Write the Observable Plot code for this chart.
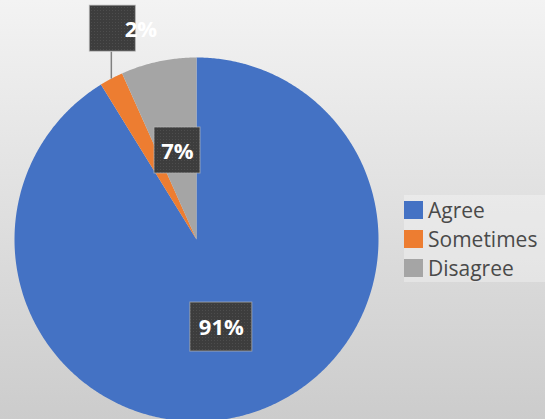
<!DOCTYPE html>
<html>
<head>
<meta charset="utf-8">
<script src="https://cdn.jsdelivr.net/npm/d3@7"></script>
<script src="https://cdn.jsdelivr.net/npm/@observablehq/plot@0.6"></script>
<style>
html, body { margin: 0; padding: 0; overflow: hidden; }
#wrap { position: relative; width: 545px; height: 419px; font-family: "Open Sans", sans-serif; }
#legend { position: absolute; left: 404px; top: 195px; width: 141px; height: 87px; background: rgba(255,255,255,0.3); }
.item { position: absolute; left: 0; height: 20px; display: flex; align-items: center; }
.sw { width: 19px; height: 18px; margin-right: 5px; }
.lab { font-size: 21px; color: #4a4a4a; line-height: 20px; }
</style>
</head>
<body>
<div id="wrap"><div id="legend"></div></div>
<script>
// Data (clockwise from 12 o'clock)
const categories = ["Agree", "Sometimes", "Disagree"];
const values = [91.2, 2.1, 6.7];
const colors = ["#4472C4", "#ED7D31", "#A5A5A5"];

const total = d3.sum(values);
const TAU = 2 * Math.PI;

// Build slice polygons
const slices = [];
const labels = [];
let acc = 0;
values.forEach((v, i) => {
  const a0 = acc / total * TAU;
  acc += v;
  const a1 = acc / total * TAU;
  const pts = [{cat: categories[i], x: 0, y: 0}];
  const n = Math.max(2, Math.ceil((a1 - a0) / (Math.PI / 360)));
  for (let k = 0; k <= n; k++) {
    const a = a0 + (a1 - a0) * k / n;
    pts.push({cat: categories[i], x: Math.sin(a), y: Math.cos(a)});
  }
  slices.push(...pts);
  const mid = (a0 + a1) / 2;
  const pct = Math.round(v / total * 100);
  const outside = v / total < 0.05;
  const r = outside ? 1 : 0.5;
  labels.push({
    cat: categories[i],
    text: pct + "%",
    outside,
    ax: Math.sin(mid) * r,
    ay: Math.cos(mid) * r
  });
});

const R = 182; // pixels per unit
const px = p => p / R;

// label box geometry (in data units, converted from pixels)
const boxes = labels.map(d => {
  const w = 16 * d.text.length + 14;
  const h = d.text.length > 2 ? 49 : 46;
  const cx = d.ax + (d.outside ? px(1.5) : 0);
  const cy = d.ay + (d.outside ? px(50) : 0);
  return {...d, cx, cy, x1: cx - px(w / 2), x2: cx + px(w / 2), y1: cy - px(h / 2), y2: cy + px(h / 2)};
});
const leaders = boxes.filter(d => d.outside);
const inner = boxes.filter(d => !d.outside);

const plot = Plot.plot({
  width: 545,
  height: 419,
  margin: 0,
  style: {background: "linear-gradient(to bottom, #f3f3f3, #cccccc)", fontFamily: "'Open Sans', sans-serif", overflow: "visible"},
  x: {domain: [-1, 1], range: [196 - R, 196 + R], axis: null},
  y: {domain: [-1, 1], range: [239 + R, 239 - R], axis: null},
  color: {domain: categories, range: colors},
  marks: [
    Plot.line(slices, {x: "x", y: "y", z: "cat", fill: "cat", stroke: "none", curve: "linear-closed"}),
    Plot.link(leaders, {x1: "ax", y1: "ay", x2: "ax", y2: d => d.y1, stroke: "#808080", strokeWidth: 1.5}),
    Plot.rect(boxes, {x1: "x1", x2: "x2", y1: "y1", y2: "y2", fill: "url(#dots)", stroke: "#b5b5b5", strokeWidth: 1, strokeOpacity: 0.7}),
    Plot.text(inner, {x: "cx", y: "cy", text: "text", fill: "white", fontWeight: "bold", fontSize: 22, dy: 1}),
    Plot.text(leaders, {x: "cx", y: "cy", text: "text", fill: "white", fontWeight: "bold", fontSize: 22, dx: 28, dy: 1})
  ]
});

const svgNS = "http://www.w3.org/2000/svg";
const defs = document.createElementNS(svgNS, "defs");
defs.innerHTML = `<pattern id="dots" width="3" height="3" patternUnits="userSpaceOnUse">
  <rect width="3" height="3" fill="#3d3d3d"/><rect x="1" y="1" width="1" height="1" fill="#4d4d4d"/></pattern>`;
plot.insertBefore(defs, plot.firstChild);

document.getElementById("wrap").prepend(plot);

// Legend
const legend = document.getElementById("legend");
categories.forEach((c, i) => {
  const it = document.createElement("div");
  it.className = "item";
  it.style.top = (5 + i * 29) + "px";
  it.innerHTML = `<div class="sw" style="background:${colors[i]}"></div><span class="lab">${c}</span>`;
  legend.appendChild(it);
});
</script>
</body>
</html>
